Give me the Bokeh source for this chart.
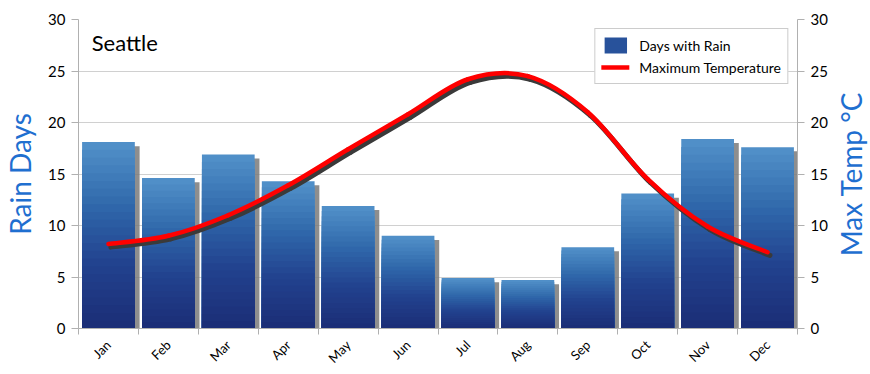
import numpy as np
from bokeh.plotting import figure
from bokeh.layouts import row
from bokeh.models import (ColumnDataSource, Range1d, LinearAxis, FixedTicker,
                          Label, Legend, LegendItem)
from bokeh.transform import dodge
from bokeh.embed import file_html
from bokeh.resources import INLINE

months = ["Jan", "Feb", "Mar", "Apr", "May", "Jun",
          "Jul", "Aug", "Sep", "Oct", "Nov", "Dec"]
rain_days = [18.1, 14.6, 16.9, 14.3, 11.9, 9.0, 4.9, 4.7, 7.9, 13.1, 18.4, 17.6]
max_temp = [8.2, 9.0, 11.0, 13.9, 17.4, 20.8, 24.2, 24.5, 21.0, 14.5, 9.9, 7.4]
y_ticks = [0, 5, 10, 15, 20, 25, 30]
city = "Seattle"

FONT = "Lato"
AXIS_BLUE = "#1f6fd0"

x = np.arange(len(months)) + 0.5
rain = np.array(rain_days)
temp = np.array(max_temp)

p = figure(width=830, height=374, output_backend="svg", toolbar_location=None,
           x_range=Range1d(0, 12), y_range=Range1d(0, 30),
           min_border_left=75, min_border_right=33,
           min_border_top=19, min_border_bottom=43)
p.outline_line_color = None
p.background_fill_color = "white"
p.border_fill_color = "white"

# grid
p.xgrid.grid_line_color = None
p.ygrid.grid_line_color = "#d0d0d0"
p.ygrid.ticker = FixedTicker(ticks=y_ticks)

# bar shadows
shadow_src = ColumnDataSource(dict(x=x, top=rain))
p.vbar(x=dodge("x", 0.08, range=p.x_range), top=dodge("top", -0.4, range=p.y_range),
       bottom=0, width=0.88, source=shadow_src, fill_color="#7a7a7a",
       line_color=None, fill_alpha=0.85)

# gradient bars: overlapping bands from full height (light) down to short (dark)
stops = [(0.0, (27, 45, 117)), (0.35, (34, 66, 143)), (0.65, (47, 103, 170)),
         (1.0, (82, 146, 202))]


def col_at(f):
    for (f0, c0), (f1, c1) in zip(stops[:-1], stops[1:]):
        if f0 <= f <= f1:
            t = (f - f0) / (f1 - f0)
            c = [int(round(a + (b - a) * t)) for a, b in zip(c0, c1)]
            return "#%02x%02x%02x" % tuple(c)
    return "#%02x%02x%02x" % stops[-1][1]


N = 24
band_renderers = []
for k in range(N, 0, -1):
    f = k / N
    src = ColumnDataSource(dict(x=x, top=rain * f))
    r = p.vbar(x="x", bottom=0, top="top", width=0.88, source=src,
               fill_color=col_at(f - 0.5 / N), line_color=None)
    band_renderers.append(r)

# smooth temperature curve (Catmull-Rom drawn as cubic Bezier segments)
P = np.column_stack([x, temp])
Pext = np.vstack([P[0], P, P[-1]])
seg = dict(x0=[], y0=[], x1=[], y1=[], cx0=[], cy0=[], cx1=[], cy1=[])
for i in range(len(P) - 1):
    p0, p1, p2, p3 = Pext[i], Pext[i + 1], Pext[i + 2], Pext[i + 3]
    c0 = p1 + (p2 - p0) / 6.0
    c1 = p2 - (p3 - p1) / 6.0
    seg["x0"].append(p1[0]); seg["y0"].append(p1[1])
    seg["x1"].append(p2[0]); seg["y1"].append(p2[1])
    seg["cx0"].append(c0[0]); seg["cy0"].append(c0[1])
    seg["cx1"].append(c1[0]); seg["cy1"].append(c1[1])
bsrc = ColumnDataSource(seg)

dx, dy = 0.04, -0.3
p.bezier(x0=dodge("x0", dx, range=p.x_range), y0=dodge("y0", dy, range=p.y_range),
         x1=dodge("x1", dx, range=p.x_range), y1=dodge("y1", dy, range=p.y_range),
         cx0=dodge("cx0", dx, range=p.x_range), cy0=dodge("cy0", dy, range=p.y_range),
         cx1=dodge("cx1", dx, range=p.x_range), cy1=dodge("cy1", dy, range=p.y_range),
         source=bsrc, line_color="#3a3a3a", line_width=5, line_cap="round")
temp_r = p.bezier(x0="x0", y0="y0", x1="x1", y1="y1", cx0="cx0", cy0="cy0",
                  cx1="cx1", cy1="cy1", source=bsrc, line_color="#ff0000",
                  line_width=4.5, line_cap="round")

# axes
p.xaxis.ticker = FixedTicker(ticks=list(x), minor_ticks=list(range(13)))
p.xaxis.major_label_overrides = {float(xx): m for xx, m in zip(x, months)}
p.xaxis.major_tick_line_color = None
p.xaxis.minor_tick_line_color = "#b0b0b0"
p.xaxis.minor_tick_out = 6
p.xaxis.minor_tick_in = 0
p.xaxis.axis_line_color = "#b0b0b0"
p.xaxis.major_label_orientation = np.pi / 4
p.xaxis.major_label_text_font = FONT
p.xaxis.major_label_text_font_size = "13px"
p.xaxis.major_label_text_color = "#000000"
p.xaxis.major_label_standoff = 8

p.yaxis.ticker = FixedTicker(ticks=y_ticks)
p.yaxis.axis_label = "Rain Days"

right = LinearAxis(ticker=FixedTicker(ticks=y_ticks))
p.add_layout(right, "right")

for ax in [p.yaxis[0], right]:
    ax.axis_line_color = "#b0b0b0"
    ax.major_tick_line_color = "#b0b0b0"
    ax.major_tick_out = 7
    ax.major_tick_in = 0
    ax.minor_tick_line_color = None
    ax.major_label_text_font = FONT
    ax.major_label_text_font_size = "15px"
    ax.major_label_text_color = "#000000"
    ax.major_label_standoff = 6
    ax.axis_label_text_font = FONT
    ax.axis_label_text_font_size = "28px"
    ax.axis_label_text_font_style = "normal"
    ax.axis_label_text_color = AXIS_BLUE
    ax.axis_label_standoff = 8

# title inside
p.add_layout(Label(x=0.22, y=26.5, text=city, text_font=FONT,
                   text_font_size="22px", text_color="#000000"))

legend = Legend(items=[LegendItem(label="Days with Rain", renderers=[band_renderers[12]]),
                       LegendItem(label="Maximum Temperature", renderers=[temp_r])],
                location="top_right")
legend.label_text_font = FONT
legend.label_text_font_size = "14px"
legend.label_text_color = "#000000"
legend.border_line_color = "#999999"
legend.background_fill_alpha = 1
legend.margin = 9
legend.padding = 6
legend.spacing = 2
legend.glyph_width = 28
legend.label_standoff = 10
legend.label_height = 18
p.add_layout(legend)

# narrow strip holding the right-hand axis title (reads bottom-to-top)
q = figure(width=40, height=374, output_backend="svg", toolbar_location=None,
           x_range=Range1d(0, 1), y_range=p.y_range,
           min_border_left=0, min_border_right=0,
           min_border_top=19, min_border_bottom=43)
q.axis.visible = False
q.grid.visible = False
q.outline_line_color = None
q.border_fill_color = "white"
q.add_layout(Label(x=0.5, y=15, text="Max Temp °C", angle=np.pi / 2,
                   text_align="center", text_baseline="middle", text_font=FONT,
                   text_font_size="28px", text_color=AXIS_BLUE))

layout = row(p, q, spacing=0)
open("out.html", "w").write(file_html(layout, INLINE))
